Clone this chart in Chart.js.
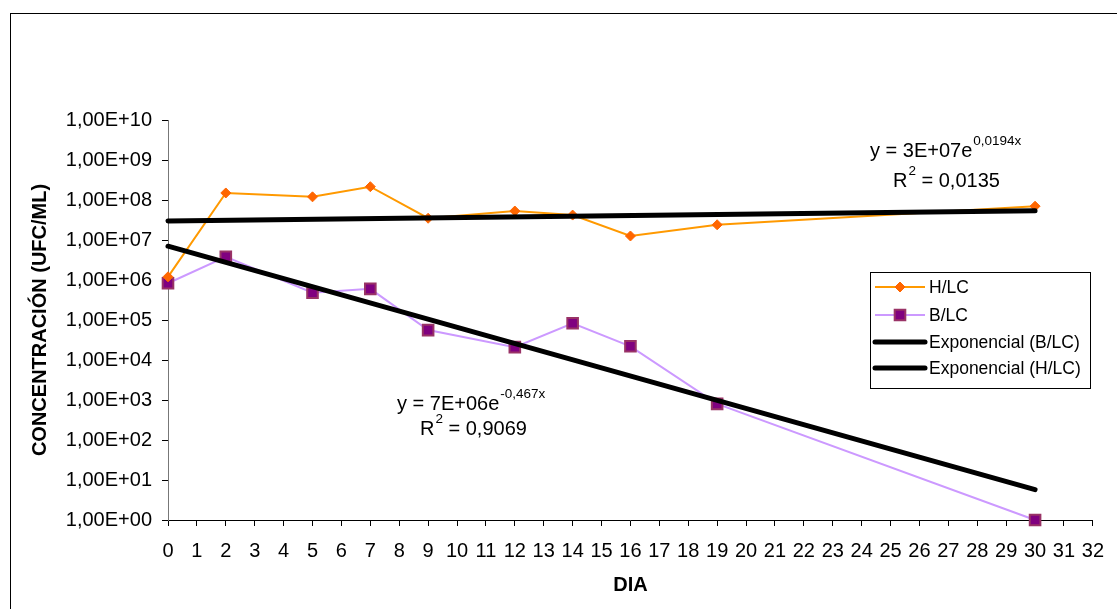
<!DOCTYPE html>
<html lang="es">
<head>
    <meta charset="UTF-8">
    <title>Concentración H/LC y B/LC</title>
    <style>
        html, body { margin: 0; padding: 0; background: #fff; }
        canvas { display: block; }
    </style>
</head>
<body>
    <canvas id="grafico" width="1117" height="609"></canvas>

    <script src="https://cdn.jsdelivr.net/npm/chart.js@4.4.1/dist/chart.umd.min.js"></script>
    <script>
        // datos de muestreo
        var dias = [0, 2, 5, 7, 9, 12, 14, 16, 19, 30];
        var hlc = [1.2e6, 1.5e8, 1.2e8, 2.15e8, 3.5e7, 5.3e7, 4.2e7, 1.26e7, 2.4e7, 7e7];
        var blc = [8.3e5, 3.8e6, 4.8e5, 6e5, 5.6e4, 2.1e4, 8.3e4, 2.2e4, 8e2, 1];

        // lineas de tendencia exponencial y = a * e^(b*x)
        var tendenciaX = [0, 30];
        var coefHLC = [3e7, 0.0194];
        var coefBLC = [7e6, -0.467];
        var r2HLC = 0.0135;
        var r2BLC = 0.9069;

        // ejes
        var yTicks = [1, 1e1, 1e2, 1e3, 1e4, 1e5, 1e6, 1e7, 1e8, 1e9, 1e10];
        var yTickLabels = ['1,00E+00', '1,00E+01', '1,00E+02', '1,00E+03', '1,00E+04', '1,00E+05',
                           '1,00E+06', '1,00E+07', '1,00E+08', '1,00E+09', '1,00E+10'];

        var fuente = 'Arial, "Liberation Sans", sans-serif';

        function puntos(xs, ys) {
            return xs.map(function (x, i) { return { x: x, y: ys[i] }; });
        }

        function tendencia(coef) {
            return tendenciaX.map(function (x) {
                return { x: x, y: coef[0] * Math.exp(coef[1] * x) };
            });
        }

        function formatoCoef(a) {
            var p = a.toExponential(0).split('e');
            var exp = parseInt(p[1], 10);
            return p[0] + 'E' + (exp < 0 ? '-' : '+') + String(Math.abs(exp)).padStart(2, '0');
        }

        function coma(n, dec) {
            return n.toFixed(dec).replace('.', ',');
        }

        // texto con exponente elevado
        function textoExp(ctx, x, y, base, sup) {
            ctx.font = '20px ' + fuente;
            ctx.fillText(base, x, y);
            var w = ctx.measureText(base).width;
            ctx.font = '13.5px ' + fuente;
            ctx.fillText(sup, x + w + 1, y - 12);
            return x + w + 1 + ctx.measureText(sup).width;
        }

        function drawMarca(ctx, estilo, r, x, y) {
            var s = r / Math.SQRT2;
            if (estilo === 'rect') {
                ctx.rect(x - s, y - s, 2 * s, 2 * s);
            } else {
                ctx.moveTo(x, y - r);
                ctx.lineTo(x + r, y);
                ctx.lineTo(x, y + r);
                ctx.lineTo(x - r, y);
                ctx.closePath();
            }
        }

        var anotaciones = {
            id: 'anotaciones',
            beforeDraw: function (chart) {
                var ctx = chart.ctx;
                ctx.save();
                ctx.strokeStyle = '#000';
                ctx.lineWidth = 1;
                ctx.strokeRect(10.5, 13.5, 1200, 700);
                ctx.restore();
            },
            afterDraw: function (chart) {
                var ctx = chart.ctx;
                ctx.save();
                ctx.fillStyle = '#000';
                ctx.textBaseline = 'alphabetic';
                ctx.textAlign = 'left';

                // ecuaciones de las tendencias
                textoExp(ctx, 870, 157, 'y = ' + formatoCoef(coefHLC[0]) + 'e', coma(coefHLC[1], 4) + 'x');
                var xr = textoExp(ctx, 893, 187, 'R', '2');
                ctx.font = '20px ' + fuente;
                ctx.fillText(' = ' + coma(r2HLC, 4), xr, 187);

                textoExp(ctx, 397, 410, 'y = ' + formatoCoef(coefBLC[0]) + 'e', coma(coefBLC[1], 3) + 'x');
                xr = textoExp(ctx, 420, 435, 'R', '2');
                ctx.font = '20px ' + fuente;
                ctx.fillText(' = ' + coma(r2BLC, 4), xr, 435);

                // leyenda
                ctx.fillStyle = '#fff';
                ctx.fillRect(870, 272, 220, 116);
                ctx.strokeStyle = '#000';
                ctx.lineWidth = 1;
                ctx.strokeRect(870.5, 272.5, 220, 116);

                var filas = [287, 315, 342, 368];
                chart.data.datasets.forEach(function (ds, i) {
                    var y = filas[i];
                    ctx.beginPath();
                    ctx.moveTo(875, y);
                    ctx.lineTo(925, y);
                    ctx.strokeStyle = ds.borderColor;
                    ctx.lineWidth = ds.borderWidth;
                    ctx.lineCap = ds.pointRadius ? 'butt' : 'round';
                    ctx.stroke();
                    if (ds.pointRadius) {
                        ctx.fillStyle = ds.pointBackgroundColor;
                        ctx.strokeStyle = ds.pointBorderColor;
                        ctx.lineWidth = ds.pointBorderWidth;
                        ctx.beginPath();
                        drawMarca(ctx, ds.pointStyle, ds.pointRadius, 900, y);
                        ctx.fill();
                        ctx.stroke();
                    }
                    ctx.fillStyle = '#000';
                    ctx.font = '17.5px ' + fuente;
                    ctx.textBaseline = 'middle';
                    ctx.fillText(ds.label, 929, y + 1);
                });
                ctx.restore();
            }
        };

        var ctx = document.getElementById('grafico').getContext('2d');
        var grafico = new Chart(ctx, {
            type: 'line',
            data: {
                datasets: [
                    {
                        label: 'H/LC',
                        data: puntos(dias, hlc),
                        borderColor: '#FF9900',
                        borderWidth: 2,
                        pointStyle: 'rectRot',
                        pointRadius: 5,
                        pointBackgroundColor: '#FF6600',
                        pointBorderColor: '#FF6600',
                        pointBorderWidth: 1,
                        clip: false,
                        order: 2
                    },
                    {
                        label: 'B/LC',
                        data: puntos(dias, blc),
                        borderColor: '#CC99FF',
                        borderWidth: 2,
                        pointStyle: 'rect',
                        pointRadius: 7.5,
                        pointBackgroundColor: '#800080',
                        pointBorderColor: '#993366',
                        pointBorderWidth: 2,
                        clip: false,
                        order: 2
                    },
                    {
                        label: 'Exponencial (B/LC)',
                        data: tendencia(coefBLC),
                        borderColor: '#000',
                        borderWidth: 5,
                        borderCapStyle: 'round',
                        pointRadius: 0,
                        clip: false,
                        order: 1
                    },
                    {
                        label: 'Exponencial (H/LC)',
                        data: tendencia(coefHLC),
                        borderColor: '#000',
                        borderWidth: 5,
                        borderCapStyle: 'round',
                        pointRadius: 0,
                        clip: false,
                        order: 1
                    }
                ]
            },
            options: {
                responsive: false,
                animation: false,
                layout: { padding: { top: 120, right: 20, left: 0, bottom: 0 } },
                plugins: {
                    legend: { display: false },
                    tooltip: { enabled: false }
                },
                scales: {
                    x: {
                        type: 'linear',
                        min: 0,
                        max: 32,
                        ticks: {
                            stepSize: 1,
                            padding: 13,
                            color: '#000',
                            font: { family: fuente, size: 20 },
                            maxRotation: 0,
                            autoSkip: false
                        },
                        grid: { drawOnChartArea: false, color: '#000', tickLength: 6 },
                        border: { color: '#000' },
                        title: {
                            display: true,
                            text: 'DIA',
                            color: '#000',
                            font: { family: fuente, size: 20, weight: 'bold' },
                            padding: { top: 0, bottom: 12 }
                        },
                        afterFit: function (scale) { scale.height = 89; }
                    },
                    y: {
                        type: 'logarithmic',
                        min: 1,
                        max: 1e10,
                        afterBuildTicks: function (scale) {
                            scale.ticks = yTicks.map(function (v) { return { value: v }; });
                        },
                        ticks: {
                            padding: 10,
                            color: '#000',
                            font: { family: fuente, size: 20 },
                            callback: function (value) {
                                return yTickLabels[yTicks.indexOf(value)];
                            }
                        },
                        grid: { drawOnChartArea: false, color: '#000', tickLength: 6 },
                        border: { color: '#777' },
                        title: {
                            display: true,
                            text: 'CONCENTRACIÓN (UFC/ML)',
                            color: '#000',
                            font: { family: fuente, size: 20, weight: 'bold' },
                            padding: { top: 28, bottom: 0 }
                        },
                        afterFit: function (scale) { scale.width = 168; }
                    }
                }
            },
            plugins: [anotaciones]
        });
    </script>
</body>
</html>
